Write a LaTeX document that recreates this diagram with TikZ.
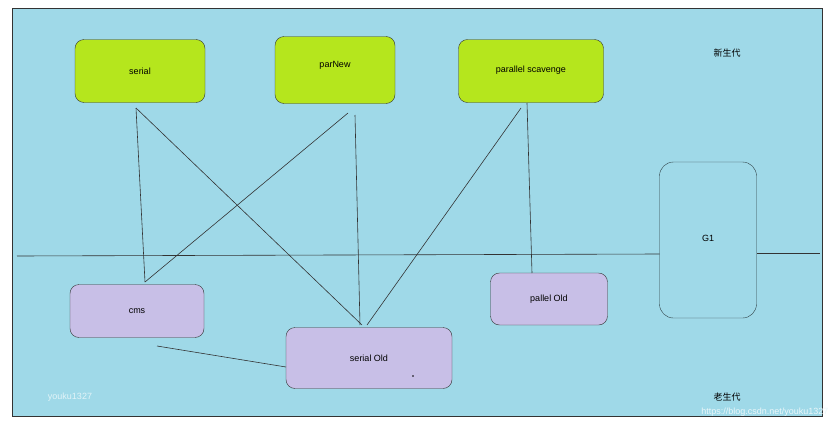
\documentclass[tikz,border=0pt]{standalone}
\usepackage{fontspec}
\setmainfont{Liberation Sans}
\newfontfamily\cjk{Noto Sans CJK SC}
\definecolor{bg}{HTML}{9FD9E8}
\definecolor{grn}{HTML}{B5E61D}
\definecolor{pur}{HTML}{C8BFE7}
\begin{document}
\begin{tikzpicture}[x=1pt,y=-1pt,
  box/.style={draw=black!80,rounded corners=9pt,font=\small,inner sep=0pt},
  young/.style={box,fill=grn},
  old/.style={box,fill=pur},
  ln/.style={draw=black!80,line width=0.6pt}]
\useasboundingbox (0,0) rectangle (836,434);
\fill[white] (0,0) rectangle (836,434);
\draw[fill=bg,draw=black!80] (12,8) rectangle (822,416);
\draw[ln] (17,256) -- (660,254);
\draw[ln] (757,253) -- (820,253);
\node[young,minimum width=130pt,minimum height=63pt] (serial) at (140,71) {serial};
\node[young,minimum width=120pt,minimum height=67pt] (parnew) at (335,70) {\raisebox{12pt}{parNew}};
\node[young,minimum width=145pt,minimum height=63pt] (ps) at (531,71) {\raisebox{3pt}{parallel scavenge}};
\node[old,minimum width=134pt,minimum height=53pt] (cms) at (137,311) {cms};
\node[old,minimum width=166pt,minimum height=61pt] (so) at (369,358) {serial Old};
\node[old,minimum width=117pt,minimum height=52pt] (po) at (549,299) {pallel Old};
\node[box,fill=bg,draw=black!70!bg,rounded corners=14pt,minimum width=97pt,minimum height=156pt] (g1) at (708,240) {\raisebox{4pt}{G1}};
\fill (413,376) circle (0.9pt);
\coordinate (a1) at (136,108); \coordinate (a2) at (145,282);
\coordinate (b1) at (348,113); \coordinate (b2) at (355,115);
\coordinate (c1) at (521,108); \coordinate (c2) at (527,103);
\coordinate (s1) at (362,325); \coordinate (s2) at (367,325);
\coordinate (p1) at (532,273);
\coordinate (m1) at (157,346); \coordinate (m2) at (286,367);
\draw[ln] (a1) -- (a2);
\draw[ln] (a1) -- (s1);
\draw[ln] (b1) -- (a2);
\draw[ln] (b2) -- (360,325);
\draw[ln] (c1) -- (s2);
\draw[ln] (c2) -- (p1);
\draw[ln] (m1) -- (m2);
\node[font=\cjk\small] (xin) at (727,53) {新生代};
\node[font=\cjk\small] (lao) at (727,397) {老生代};
\node[font=\small,text=white!70!bg] (wm1) at (70,397) {youku1327};
\node[font=\small,text=white!80!bg,anchor=east] (wm2) at (832,412) {https://blog.csdn.net/youku1327};
\end{tikzpicture}
\end{document}
